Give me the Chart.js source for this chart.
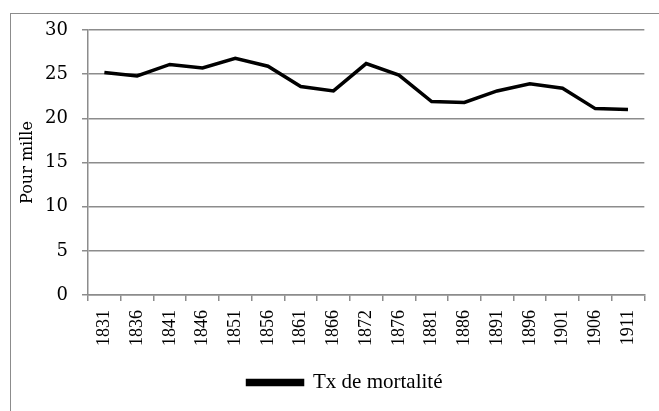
<!DOCTYPE html>
<html>
<head>
<meta charset="utf-8">
<script src="https://cdn.jsdelivr.net/npm/chart.js@4"></script>
<style>
  html, body { margin: 0; padding: 0; background: #fff; overflow: hidden; }
  #wrap { position: relative; width: 659px; height: 411px; }
  #frame { position: absolute; left: 10px; top: 13px; width: 700px; height: 450px; border: 1px solid #8c8c8c; box-sizing: border-box; }
  canvas { position: absolute; left: 0; top: 0; }
</style>
</head>
<body>
<div id="wrap">
  <div id="frame"></div>
  <canvas id="chart" width="659" height="411"></canvas>
</div>
<script>
const years = ['1831', '1836', '1841', '1846', '1851', '1856', '1861', '1866', '1872',
    '1876', '1881', '1886', '1891', '1896', '1901', '1906', '1911'];
const mortalite = [25.2, 24.8, 26.1, 25.7, 26.8, 25.9, 23.6, 23.1, 26.2,
    24.9, 21.9, 21.8, 23.1, 23.9, 23.4, 21.1, 21.0];
const yTicks = [0, 5, 10, 15, 20, 25, 30];

const seriesName = 'Tx de mortalité';
const axisTitle = 'Pour mille';
const gridColor = '#8c8c8c';
const timesFont = "'Liberation Serif', 'Times New Roman', serif";
const cambriaFont = "'DejaVu Serif', serif";

new Chart(document.getElementById('chart').getContext('2d'), {
    type: 'line',
    data: {
        labels: years,
        datasets: [{
            label: seriesName,
            data: mortalite,
            borderColor: '#000',
            backgroundColor: '#000',
            borderWidth: 3.5,
            pointRadius: 0,
            tension: 0
        }]
    },
    options: {
        responsive: false,
        animation: false,
        // left padding is wide so the legend centres where the original one does
        layout: { padding: { left: 45, right: 14, top: 30, bottom: 8 } },
        plugins: {
            tooltip: { enabled: false },
            legend: {
                position: 'bottom',
                labels: {
                    boxWidth: 55,
                    boxHeight: 4,
                    color: '#000',
                    padding: 10,
                    font: { family: timesFont, size: 21 }
                }
            }
        },
        scales: {
            x: {
                offset: true,
                grid: { offset: true, drawOnChartArea: false, drawTicks: true, tickLength: 6, color: gridColor, lineWidth: 1.5 },
                border: { color: gridColor, width: 1.5 },
                ticks: {
                    color: '#000',
                    maxRotation: 90,
                    minRotation: 90,
                    autoSkip: false,
                    padding: 9,
                    font: { family: timesFont, size: 18 }
                },
                afterFit: function (scale) { scale.height = 67; }
            },
            y: {
                min: 0,
                max: 30,
                afterBuildTicks: function (scale) { scale.ticks = yTicks.map(v => ({ value: v })); },
                grid: { color: gridColor, lineWidth: 1.5, tickLength: 6 },
                border: { color: gridColor, width: 1.5 },
                ticks: {
                    color: '#000',
                    padding: 14,
                    font: { family: cambriaFont, size: 18 }
                },
                title: {
                    display: true,
                    text: axisTitle,
                    color: '#000',
                    padding: { top: -27, bottom: 0 },
                    font: { family: cambriaFont, size: 16 }
                },
                afterFit: function (scale) { scale.width = 43; }
            }
        }
    }
});
</script>
</body>
</html>
